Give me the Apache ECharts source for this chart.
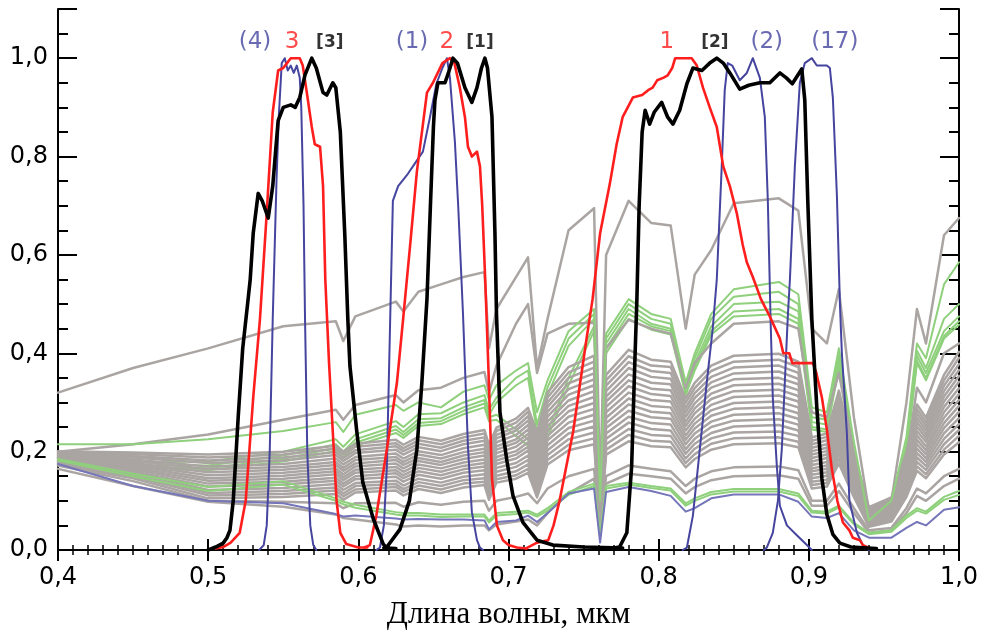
<!DOCTYPE html>
<html><head><meta charset="utf-8">
<script src="https://cdn.jsdelivr.net/npm/echarts@6/dist/echarts.min.js"></script>
<style>html,body{margin:0;padding:0;background:#fff}#c{width:982px;height:635px}</style>
</head><body><div id="c"></div>
<script>
// ---- wavelength grid for reflectance spectra (µm)
const wl = [0.400,0.450,0.500,0.550,0.585,0.590,0.598,0.625,0.630,0.640,0.655,0.670,0.684,0.687,0.692,0.705,0.713,0.719,0.726,0.740,0.757,0.761,0.765,0.780,0.795,0.808,0.818,0.824,0.835,0.850,0.880,0.893,0.902,0.912,0.920,0.930,0.940,0.955,0.965,0.972,0.978,0.990,1.000];

// ---- gray reflectance spectra
const grayTop = [.320,.370,.410,.455,.465,.425,.475,.505,.485,.525,.540,.555,.565,.410,.490,.555,.595,.370,.470,.650,.695,.120,.600,.710,.665,.660,.450,.560,.610,.705,.715,.690,.450,.420,.530,.270,.080,.100,.300,.490,.420,.640,.675];
const graySecond = [.200,.215,.235,.265,.285,.265,.295,.315,.300,.325,.330,.350,.362,.320,.375,.460,.500,.360,.440,.460,.462,.100,.410,.468,.450,.440,.330,.380,.420,.460,.465,.450,.280,.270,.360,.200,.060,.080,.180,.330,.300,.400,.420];
const gray01 = [.201,.198,.194,.200,.212,.200,.216,.224,.214,.230,.222,.236,.244,.214,.249,.267,.289,.239,.320,.372,.395,.087,.356,.407,.387,.383,.308,.340,.375,.395,.399,.383,.229,.237,.324,.198,.087,.107,.198,.296,.269,.356,.403];
const gray02 = [.199,.195,.188,.194,.206,.194,.210,.217,.207,.223,.215,.229,.237,.207,.242,.259,.281,.231,.310,.361,.383,.084,.345,.394,.375,.372,.299,.329,.364,.383,.387,.372,.222,.230,.314,.192,.084,.103,.192,.287,.260,.345,.391];
const gray03 = [.197,.191,.182,.188,.199,.187,.203,.211,.201,.216,.208,.222,.229,.199,.234,.250,.272,.222,.300,.350,.371,.082,.334,.382,.364,.360,.289,.319,.352,.371,.375,.360,.215,.223,.304,.186,.082,.100,.186,.278,.252,.334,.378];
const gray04 = [.196,.188,.177,.182,.193,.181,.197,.204,.194,.209,.201,.215,.222,.192,.227,.243,.263,.213,.291,.339,.359,.079,.323,.370,.352,.348,.280,.309,.341,.359,.363,.348,.208,.215,.294,.180,.079,.097,.180,.269,.244,.323,.366];
const gray05 = [.194,.184,.170,.175,.186,.174,.189,.196,.186,.201,.193,.207,.214,.184,.219,.234,.254,.204,.281,.327,.347,.076,.312,.357,.340,.337,.271,.298,.330,.347,.350,.337,.201,.208,.285,.174,.076,.094,.174,.260,.236,.312,.354];
const gray06 = [.192,.181,.164,.169,.179,.167,.183,.189,.179,.194,.186,.199,.206,.176,.211,.225,.245,.195,.271,.316,.335,.074,.302,.345,.328,.325,.261,.288,.318,.335,.338,.325,.194,.201,.275,.168,.074,.090,.168,.251,.228,.302,.342];
const gray07 = [.190,.177,.158,.163,.173,.161,.176,.183,.173,.187,.179,.192,.199,.169,.204,.218,.236,.186,.261,.304,.323,.071,.291,.333,.317,.313,.252,.278,.307,.323,.326,.313,.187,.194,.265,.162,.071,.087,.162,.242,.220,.291,.329];
const gray08 = [.188,.174,.152,.157,.166,.154,.170,.176,.166,.181,.173,.185,.192,.162,.197,.210,.228,.178,.252,.293,.311,.068,.280,.320,.305,.302,.243,.267,.295,.311,.314,.302,.180,.187,.255,.156,.068,.084,.156,.233,.211,.280,.317];
const gray09 = [.187,.171,.146,.151,.160,.148,.163,.169,.159,.174,.166,.178,.184,.154,.189,.201,.219,.169,.242,.282,.299,.066,.269,.308,.293,.290,.233,.257,.284,.299,.302,.290,.173,.179,.245,.150,.066,.081,.150,.224,.203,.269,.305];
const gray10 = [.185,.167,.141,.145,.154,.142,.157,.162,.152,.167,.159,.171,.177,.147,.182,.194,.210,.160,.232,.271,.287,.063,.258,.296,.281,.278,.224,.247,.273,.287,.290,.278,.166,.172,.235,.144,.063,.077,.144,.215,.195,.258,.293];
const gray11 = [.183,.164,.135,.139,.147,.135,.150,.156,.146,.160,.152,.164,.170,.140,.175,.186,.202,.152,.223,.259,.275,.061,.248,.283,.270,.267,.215,.237,.261,.275,.278,.267,.160,.165,.226,.138,.061,.074,.138,.206,.187,.248,.281];
const gray12 = [.181,.160,.129,.133,.141,.129,.144,.149,.139,.153,.145,.157,.162,.132,.167,.177,.192,.142,.213,.248,.263,.058,.237,.271,.258,.255,.205,.226,.250,.263,.266,.255,.153,.158,.216,.132,.058,.071,.132,.197,.179,.237,.268];
const gray13 = [.180,.157,.122,.126,.134,.122,.136,.141,.131,.145,.137,.149,.154,.124,.159,.169,.183,.133,.203,.237,.251,.055,.226,.259,.246,.243,.196,.216,.238,.251,.254,.243,.146,.151,.206,.126,.055,.068,.126,.188,.171,.226,.256];
const gray14 = [.178,.153,.116,.120,.127,.115,.130,.134,.124,.138,.130,.142,.146,.116,.151,.160,.174,.124,.193,.225,.239,.053,.215,.246,.234,.232,.186,.206,.227,.239,.241,.232,.139,.143,.196,.120,.053,.065,.120,.179,.163,.215,.244];
const gray15 = [.176,.150,.111,.114,.121,.109,.123,.128,.118,.131,.123,.135,.139,.109,.144,.152,.165,.115,.183,.214,.227,.050,.204,.234,.222,.220,.177,.195,.216,.227,.229,.220,.132,.136,.186,.114,.050,.061,.114,.170,.154,.204,.232];
const gray16 = [.174,.146,.105,.108,.114,.102,.117,.121,.111,.124,.116,.127,.132,.102,.137,.145,.157,.107,.174,.203,.215,.047,.194,.221,.211,.209,.168,.185,.204,.215,.217,.209,.125,.129,.176,.108,.047,.058,.108,.161,.146,.194,.219];
const grayLow1 = [.172,.140,.100,.098,.095,.085,.095,.096,.088,.097,.092,.098,.100,.080,.100,.108,.115,.095,.125,.150,.165,.040,.150,.172,.165,.160,.130,.145,.160,.168,.170,.162,.100,.100,.135,.085,.040,.045,.085,.125,.115,.150,.165];
const grayLow2 = [.165,.130,.098,.088,.072,.065,.062,.052,.048,.050,.048,.050,.050,.040,.052,.058,.062,.050,.075,.115,.145,.035,.135,.155,.150,.145,.115,.128,.142,.150,.152,.145,.090,.090,.120,.075,.035,.040,.075,.110,.100,.130,.145];

// ---- green reflectance spectra
const green1 = [.215,.215,.225,.242,.260,.240,.275,.295,.283,.300,.290,.322,.335,.305,.335,.365,.380,.280,.345,.445,.490,.100,.440,.510,.480,.470,.340,.400,.480,.530,.545,.520,.290,.280,.410,.220,.060,.100,.230,.420,.390,.540,.585];
const green2 = [.188,.178,.180,.200,.225,.210,.235,.262,.250,.276,.278,.300,.315,.285,.310,.350,.365,.255,.330,.430,.480,.095,.430,.500,.470,.460,.330,.390,.470,.515,.525,.500,.270,.265,.395,.200,.055,.095,.215,.405,.370,.470,.500];
const green3 = [.185,.172,.172,.192,.215,.200,.225,.252,.240,.266,.268,.290,.305,.275,.300,.335,.350,.240,.315,.415,.470,.090,.420,.490,.460,.450,.325,.380,.455,.500,.505,.485,.260,.255,.385,.190,.052,.090,.205,.395,.360,.445,.475];
const green4 = [.183,.168,.166,.185,.208,.194,.218,.245,.234,.258,.262,.283,.298,.270,.275,.245,.225,.150,.240,.350,.455,.088,.410,.480,.455,.445,.320,.372,.445,.485,.490,.470,.250,.245,.375,.185,.050,.088,.200,.385,.350,.435,.465];
const green5 = [.181,.165,.162,.180,.202,.188,.212,.238,.228,.252,.256,.276,.290,.262,.265,.232,.212,.140,.228,.335,.445,.085,.400,.470,.448,.438,.315,.365,.438,.475,.480,.460,.245,.240,.370,.180,.048,.085,.195,.380,.345,.430,.458];
const greenLow1 = [.185,.155,.128,.140,.105,.098,.092,.077,.075,.075,.072,.072,.072,.060,.075,.078,.080,.072,.085,.118,.135,.030,.130,.137,.130,.125,.095,.105,.118,.124,.124,.115,.080,.078,.090,.055,.035,.040,.070,.085,.078,.108,.120];
const greenLow2 = [.182,.150,.120,.133,.100,.093,.086,.072,.070,.070,.067,.068,.068,.056,.070,.073,.076,.068,.080,.112,.130,.028,.125,.133,.126,.121,.090,.100,.113,.119,.119,.110,.076,.074,.086,.052,.032,.037,.065,.080,.074,.102,.112];
// ---- blue reflectance spectrum (lowest)
const blueRefl = [.175,.130,.100,.095,.073,.068,.070,.064,.062,.063,.062,.062,.060,.042,.057,.060,.070,.057,.075,.115,.125,.015,.118,.128,.120,.110,.078,.085,.105,.113,.113,.098,.068,.065,.075,.040,.025,.025,.045,.057,.050,.082,.087];

// ---- filter response curves [wavelength, response]
const blue4 = [[0.534,0],[0.537,0.01],[0.539,0.05],[0.541,0.2],[0.543,0.47],[0.5455,0.75],[0.547,0.88],[0.549,0.99],[0.551,1.0],[0.553,0.975],[0.555,0.985],[0.557,0.97],[0.559,0.985],[0.561,0.96],[0.562,0.9],[0.5635,0.7],[0.5645,0.47],[0.566,0.2],[0.568,0.05],[0.570,0.01],[0.572,0]];
const red3 = [[0.505,0.003],[0.510,0.006],[0.515,0.015],[0.521,0.035],[0.525,0.10],[0.530,0.31],[0.5345,0.47],[0.539,0.685],[0.543,0.89],[0.5466,0.975],[0.550,0.98],[0.5525,0.99],[0.555,1.0],[0.561,1.0],[0.563,0.985],[0.5657,0.93],[0.569,0.86],[0.571,0.825],[0.5745,0.82],[0.5765,0.74],[0.578,0.55],[0.5805,0.38],[0.583,0.24],[0.5855,0.10],[0.588,0.035],[0.592,0.012],[0.600,0.005],[0.606,0.005]];
const black3 = [[0.500,0],[0.505,0.006],[0.510,0.014],[0.5125,0.025],[0.5145,0.04],[0.5167,0.10],[0.520,0.27],[0.523,0.41],[0.5266,0.51],[0.528,0.55],[0.530,0.644],[0.5333,0.725],[0.536,0.71],[0.540,0.675],[0.543,0.74],[0.5466,0.873],[0.550,0.90],[0.555,0.905],[0.558,0.90],[0.561,0.92],[0.5645,0.966],[0.569,1.0],[0.572,0.98],[0.5765,0.93],[0.579,0.925],[0.583,0.95],[0.585,0.94],[0.588,0.85],[0.591,0.64],[0.593,0.47],[0.5944,0.374],[0.599,0.24],[0.603,0.137],[0.610,0.063],[0.6166,0.012],[0.619,0.004],[0.625,0.003]];
const blue1 = [[0.612,0],[0.6144,0.005],[0.617,0.05],[0.619,0.17],[0.621,0.44],[0.623,0.71],[0.6265,0.74],[0.633,0.765],[0.6377,0.786],[0.643,0.81],[0.6477,0.88],[0.652,0.948],[0.656,0.98],[0.659,1.0],[0.661,0.96],[0.6643,0.83],[0.6665,0.7],[0.6697,0.48],[0.673,0.21],[0.6756,0.077],[0.679,0.02],[0.681,0.005],[0.683,0]];
const red2 = [[0.604,0.005],[0.6077,0.01],[0.612,0.07],[0.619,0.205],[0.6257,0.34],[0.630,0.475],[0.6345,0.62],[0.639,0.77],[0.6457,0.93],[0.6497,0.95],[0.656,0.99],[0.661,1.0],[0.664,0.99],[0.6676,0.94],[0.671,0.88],[0.673,0.82],[0.6756,0.80],[0.679,0.81],[0.681,0.78],[0.6825,0.70],[0.6845,0.55],[0.6865,0.38],[0.689,0.145],[0.6923,0.05],[0.6963,0.02],[0.700,0.01],[0.7056,0.005],[0.712,0.003]];
const black1 = [[0.617,0.004],[0.619,0.006],[0.6277,0.042],[0.634,0.10],[0.639,0.205],[0.6423,0.34],[0.6457,0.51],[0.648,0.70],[0.650,0.86],[0.651,0.914],[0.653,0.95],[0.6577,0.95],[0.660,0.97],[0.663,1.0],[0.666,0.99],[0.671,0.94],[0.6756,0.91],[0.679,0.94],[0.682,0.98],[0.6843,1.0],[0.686,0.98],[0.689,0.88],[0.691,0.64],[0.692,0.48],[0.6943,0.28],[0.699,0.18],[0.703,0.11],[0.7096,0.056],[0.719,0.02],[0.7296,0.01],[0.750,0.006],[0.776,0.004]];
const red1 = [[0.712,0.004],[0.719,0.015],[0.7265,0.02],[0.730,0.05],[0.734,0.10],[0.743,0.24],[0.752,0.43],[0.756,0.51],[0.761,0.644],[0.7675,0.745],[0.772,0.825],[0.776,0.88],[0.7828,0.92],[0.789,0.925],[0.793,0.935],[0.796,0.94],[0.799,0.955],[0.803,0.96],[0.806,0.965],[0.809,0.98],[0.811,1.0],[0.822,1.0],[0.8254,0.985],[0.8295,0.94],[0.834,0.90],[0.8387,0.86],[0.843,0.78],[0.8474,0.74],[0.852,0.685],[0.856,0.62],[0.8587,0.585],[0.8627,0.555],[0.8681,0.51],[0.874,0.475],[0.8807,0.43],[0.883,0.40],[0.887,0.40],[0.889,0.38],[0.9027,0.38],[0.905,0.36],[0.9087,0.31],[0.912,0.245],[0.9153,0.165],[0.919,0.10],[0.9227,0.056],[0.927,0.04],[0.9293,0.025],[0.934,0.02],[0.936,0.01],[0.940,0.004]];
const black2 = [[0.770,0.004],[0.774,0.006],[0.7788,0.035],[0.782,0.17],[0.784,0.37],[0.7855,0.51],[0.787,0.70],[0.789,0.85],[0.791,0.894],[0.794,0.866],[0.797,0.89],[0.802,0.91],[0.806,0.88],[0.8095,0.866],[0.814,0.894],[0.8188,0.948],[0.8228,0.98],[0.8288,0.975],[0.834,0.99],[0.8387,1.0],[0.843,0.99],[0.8474,0.97],[0.854,0.937],[0.860,0.945],[0.8674,0.95],[0.874,0.95],[0.8807,0.97],[0.885,0.96],[0.889,0.948],[0.8953,0.978],[0.8973,0.915],[0.8993,0.71],[0.902,0.47],[0.9053,0.29],[0.9087,0.145],[0.912,0.072],[0.916,0.032],[0.9207,0.014],[0.928,0.006],[0.945,0.003]];
const blue2 = [[0.816,0],[0.8188,0.005],[0.8228,0.07],[0.8274,0.205],[0.832,0.34],[0.836,0.45],[0.8387,0.55],[0.842,0.78],[0.844,0.935],[0.846,0.99],[0.849,0.985],[0.854,0.955],[0.8587,0.97],[0.8627,1.0],[0.8674,0.96],[0.8707,0.88],[0.8727,0.71],[0.8745,0.47],[0.876,0.31],[0.8787,0.17],[0.8807,0.09],[0.8854,0.05],[0.892,0.03],[0.8987,0.01],[0.902,0]];
const blue17 = [[0.870,0],[0.872,0.005],[0.876,0.035],[0.8794,0.10],[0.882,0.205],[0.884,0.34],[0.886,0.475],[0.8874,0.55],[0.8907,0.78],[0.894,0.95],[0.8973,0.99],[0.902,1.0],[0.9053,0.985],[0.912,0.985],[0.914,0.98],[0.916,0.92],[0.9187,0.72],[0.9207,0.50],[0.922,0.40],[0.9253,0.24],[0.927,0.10],[0.932,0.035],[0.936,0.01],[0.940,0]];

// ---- band labels
const labelText = ['(4)','3','[3]','(1)','2','[1]','1','[2]','(2)','(17)'];
const labelX = [0.5312,0.5558,0.581,0.6357,0.659,0.681,0.8055,0.8374,0.872,0.9173];
const labelY = [1.032,1.032,1.032,1.032,1.032,1.032,1.032,1.032,1.032,1.032];
const labelFamily = ['blue','red','black','blue','red','black','red','black','blue','blue'];

// ---- tick labels
const xTicks = [0.4,0.5,0.6,0.7,0.8,0.9,1.0];
const yTicks = [0.0,0.2,0.4,0.6,0.8,1.0];

// ---------------- styles / build ----------------
const C = {gray:'#aaa5a2', green:'#8fd07c', blueF:'#45459f', blueR:'#7575b9', red:'#ff1e1e', black:'#000000'};
const labelStyle = {
  blue:{color:C.blueF, fontSize:23, fontWeight:'normal', fontFamily:'DejaVu Sans'},
  red:{color:C.red, fontSize:23, fontWeight:'normal', fontFamily:'DejaVu Sans'},
  black:{color:'#000', fontSize:17, fontWeight:'bold', fontFamily:'DejaVu Sans'}
};
const onGrid = arr => wl.map((w,i)=>[w,arr[i]]);
function line(data,color,width,z){
  return {type:'line',data,showSymbol:false,symbol:'none',silent:true,animation:false,
    lineStyle:{color,width,join:'round',cap:'round'},itemStyle:{color},z,emphasis:{disabled:true}};
}
const series = [];
[green2,green3,green4,green5].forEach(g=>series.push(line(onGrid(g),C.green,2,1)));
[gray01,gray02,gray03,gray04,gray05,gray06,gray07,gray08,gray09,gray10,gray11,gray12,gray13,gray14,gray15,gray16,grayLow1,grayLow2,graySecond,grayTop]
  .forEach(g=>series.push(line(onGrid(g),C.gray,2.5,2)));
[green1,greenLow1,greenLow2].forEach(g=>series.push(line(onGrid(g),C.green,2,3)));
series.push(line(onGrid(blueRefl),C.blueR,2,3));
[blue4,blue1,blue2,blue17].forEach(d=>series.push(line(d,C.blueF,2,4)));
[red3,red2,red1].forEach(d=>series.push(line(d,C.red,2.6,5)));
[black3,black1,black2].forEach(d=>series.push(line(d,C.black,3.6,6)));
series.push({type:'scatter',silent:true,animation:false,z:7,symbolSize:1,itemStyle:{color:'rgba(0,0,0,0)'},
  data:labelText.map((t,i)=>({value:[labelX[i],labelY[i]],name:t,
    label:Object.assign({show:true,position:'inside',formatter:t},labelStyle[labelFamily[i]])}))});

const fmt = v => v.toFixed(1).replace('.',',');
const isTick = (arr,v) => arr.some(t=>Math.abs(t-v)<1e-6);
const axLine = {show:true,lineStyle:{color:'#000',width:2}};
const xBase = {type:'value',min:0.4,max:1.0,interval:0.1,splitLine:{show:false},
  axisLine:axLine,axisTick:{show:true,inside:true,length:11,lineStyle:{color:'#000',width:2}},
  minorTick:{show:true,splitNumber:10,length:5,lineStyle:{color:'#000',width:1.5}},minorSplitLine:{show:false}};
const yMajor = {type:'value',min:0,max:1.1,interval:0.2,splitLine:{show:false},axisLine:axLine,
  axisTick:{show:true,inside:true,length:19,lineStyle:{color:'#000',width:2}}};
const yMinor = {type:'value',min:0,max:1.1,interval:0.05,splitLine:{show:false},axisLine:{show:false},
  axisLabel:{show:false},axisTick:{show:true,inside:true,length:10,lineStyle:{color:'#000',width:2}}};

const option = {
  backgroundColor:'#fff',
  animation:false,
  grid:{left:58,right:23,top:9,bottom:84,containLabel:false},
  xAxis:[
    Object.assign({},xBase,{position:'bottom',
      axisLabel:{show:true,margin:16,color:'#000',fontSize:24,fontFamily:'DejaVu Sans',showMinLabel:true,showMaxLabel:true,
        formatter:v=>isTick(xTicks,v)?fmt(v):''},
      name:'Длина волны, мкм',nameLocation:'middle',nameGap:49,
      nameTextStyle:{color:'#000',fontSize:31,fontFamily:'Liberation Serif'}}),
    Object.assign({},xBase,{position:'top',axisLabel:{show:false}})
  ],
  yAxis:[
    Object.assign({},yMajor,{position:'left',
      axisLabel:{show:true,margin:10,color:'#000',fontSize:24,fontFamily:'DejaVu Sans',
        formatter:v=>isTick(yTicks,v)?fmt(v):''}}),
    Object.assign({},yMinor,{position:'left'}),
    Object.assign({},yMajor,{position:'right',axisLabel:{show:false}}),
    Object.assign({},yMinor,{position:'right'})
  ],
  series:series
};
const chart = echarts.init(document.getElementById('c'),null,{renderer:'canvas'});
chart.setOption(option);
</script>
</body></html>
